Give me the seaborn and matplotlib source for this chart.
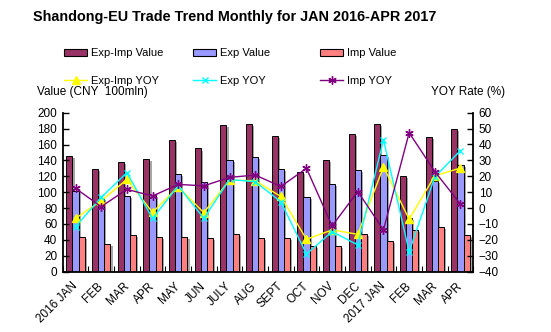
import numpy as np
import pandas as pd
import matplotlib
matplotlib.use("Agg")
import matplotlib.pyplot as plt
import matplotlib.patheffects as pe
import matplotlib.transforms as mtransforms
from matplotlib.lines import Line2D
from matplotlib.patches import Patch
import seaborn as sns

# ---------------- data ----------------
months = ["2016 JAN", "FEB", "MAR", "APR", "MAY", "JUN", "JULY", "AUG", "SEPT",
          "OCT", "NOV", "DEC", "2017 JAN", "FEB", "MAR", "APR"]
exp_imp_value = [146, 129, 138, 142, 166, 155, 185, 186, 171, 126, 141, 173, 186, 120, 169, 179]
exp_value = [102, 93, 95, 97, 123, 113, 140, 144, 129, 94, 110, 128, 147, 68, 114, 134]
imp_value = [44, 35, 46, 44, 44, 43, 47, 43, 42, 32, 32, 47, 39, 52, 56, 46]
exp_imp_yoy = [-6.5, 4.6, 18.0, -2.7, 13.4, -2.9, 17.6, 17.2, 7.3, -19.6, -13.7, -16.5, 26.0, -7.0, 20.3, 25.2]
exp_yoy = [-11.7, 6.7, 22.3, -6.5, 14.0, -6.5, 18.0, 16.6, 4.0, -28.9, -14.8, -23.2, 43.0, -27.4, 19.6, 36.2]
imp_yoy = [12.4, 0.9, 11.8, 7.6, 14.9, 14.0, 19.3, 20.8, 13.6, 25.0, -11.2, 10.4, -13.7, 47.4, 23.0, 2.5]

bar_names = ["Exp-Imp Value", "Exp Value", "Imp Value"]
line_names = ["Exp-Imp YOY", "Exp YOY", "Imp YOY"]
bar_colors = ["#993366", "#9999FF", "#FF8080"]
line_colors = ["#FFFF00", "#00FFFF", "#800080"]

# ---------------- figure ----------------
plt.rcParams["font.family"] = ["Liberation Sans", "DejaVu Sans"]
W, H = 551, 332
fig = plt.figure(figsize=(W / 100, H / 100), dpi=100)
x0, x1, ytop, ybot = 62.7, 473.3, 112.7, 271.7
ax = fig.add_axes([x0 / W, (H - ybot) / H, (x1 - x0) / W, (ybot - ytop) / H])

pos = np.arange(len(months))
df = pd.DataFrame({
    "pos": np.tile(pos, 3),
    "series": np.repeat(bar_names, len(months)),
    "value": exp_imp_value + exp_value + imp_value,
})
sns.barplot(data=df, x="pos", y="value", hue="series", hue_order=bar_names,
            palette=bar_colors, saturation=1, width=0.72, edgecolor="black",
            linewidth=0.7, ax=ax, legend=False)
for p in ax.patches:
    p.set_path_effects([pe.SimplePatchShadow(offset=(1.5, -1.5), shadow_rgbFace="#808080", alpha=0.7),
                        pe.Normal()])

ax.set_xlim(-0.5, len(months) - 0.5)
ax.set_ylim(0, 200)
ax.set_yticks(np.arange(0, 201, 20))
ax.set_xlabel("")
ax.set_ylabel("")

ax2 = ax.twinx()
markers = ["^", "x", (6, 2, 0)]
sizes = [5.5, 5, 6]
for vals, c, m, s in zip([exp_imp_yoy, exp_yoy, imp_yoy], line_colors, markers, sizes):
    sns.lineplot(x=pos, y=vals, ax=ax2, color=c, linewidth=1.0, marker=m,
                 markersize=s, markeredgecolor=c, markerfacecolor=c,
                 markeredgewidth=1.0)
ax2.set_ylim(-40, 60)
ax2.set_yticks(np.arange(-40, 61, 10))
ax2.set_ylabel("")

# spines & ticks
for a in (ax, ax2):
    a.spines["top"].set_visible(False)
    for s in a.spines.values():
        s.set_linewidth(1.3)
        s.set_color("black")
ax.spines["right"].set_visible(False)
ax2.spines["left"].set_visible(False)
ax2.spines["bottom"].set_visible(False)

ax.set_xticks(pos)
ax.set_xticklabels(months, rotation=45, ha="right", rotation_mode="anchor", fontsize=8.5)
ax.tick_params(axis="x", length=0, pad=6)
shift = mtransforms.ScaledTranslation(-4 / 100, 0, fig.dpi_scale_trans)
for lbl in ax.get_xticklabels():
    lbl.set_transform(lbl.get_transform() + shift)
ax.set_xticks(np.arange(-0.5, len(months), 1), minor=True)
ax.tick_params(axis="x", which="minor", direction="in", length=4, width=0.8)
ax.tick_params(axis="y", direction="in", length=4, width=1, labelsize=8.5, pad=4)
ax2.tick_params(axis="y", direction="in", length=4, width=1, labelsize=8.5, pad=4)

# texts
fig.text(33 / W, 1 - 17 / H, "Shandong-EU Trade Trend Monthly for JAN 2016-APR 2017",
         fontsize=10.4, fontweight="bold", ha="left", va="center")
fig.text(37 / W, 1 - 92 / H, "Value (CNY  100mln)", fontsize=8.5, ha="left", va="center")
fig.text(505 / W, 1 - 92 / H, "YOY Rate (%)", fontsize=8.5, ha="right", va="center")

# legends: three columns, two rows each
col_x = [64, 193, 320]
for i in range(3):
    handles = [Patch(facecolor=bar_colors[i], edgecolor="black", linewidth=0.8),
               Line2D([0], [0], color=line_colors[i], marker=markers[i], markersize=sizes[i],
                      markeredgecolor=line_colors[i], markerfacecolor=line_colors[i], linewidth=1)]
    fig.legend(handles, [bar_names[i], line_names[i]], loc="upper left",
               bbox_to_anchor=(col_x[i] / W, 1 - 48 / H), frameon=False, fontsize=8,
               handlelength=2.1, handletextpad=0.3, labelspacing=1.6, borderpad=0,
               borderaxespad=0, handleheight=0.6)

fig.savefig("out.png", dpi=100)
